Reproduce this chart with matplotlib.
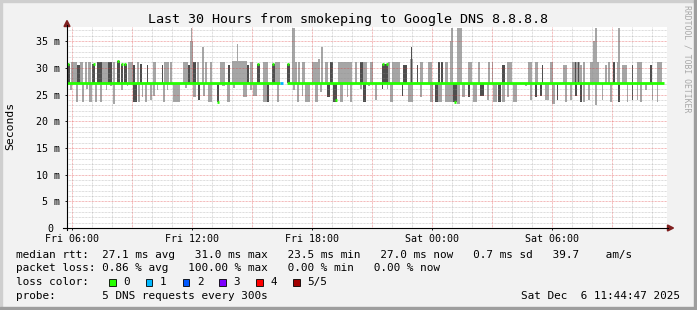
import numpy as np
import matplotlib.pyplot as plt
from matplotlib.patches import Rectangle, Polygon
from matplotlib.lines import Line2D

# time axis in hours since Fri 00:00, values in ms
t_start, t_end = 5.746, 35.746
median = 27.2

# smoke above the median line (start hour, width hours, top ms, dark shade)
up_t = [5.77, 5.95, 6.27, 6.42, 6.67, 6.82, 7.02, 7.27, 7.52, 7.82,
        8.07, 8.27, 8.47, 8.62, 8.82, 9.07, 9.27, 9.42, 9.77, 10.07,
        10.52, 10.62, 10.92, 11.57, 11.82, 11.92, 11.97, 12.07, 12.27, 12.52,
        12.67, 12.92, 13.42, 13.82, 14.02, 14.27, 14.77, 14.92, 15.27, 15.57,
        16.02, 16.17, 16.77, 17.02, 17.17, 17.32, 17.52, 18.02, 18.32, 18.47,
        18.67, 18.92, 19.32, 20.17, 20.42, 20.57, 20.92, 21.52, 21.82, 22.02,
        22.57, 22.92, 22.97, 23.27, 23.42, 23.82, 24.32, 24.47, 24.67, 24.92,
        24.97, 25.27, 25.82, 26.32, 26.82, 27.02, 27.52, 27.77, 28.82, 29.17,
        29.52, 29.92, 30.57, 31.02, 31.17, 31.32, 31.42, 31.57, 31.92, 32.07,
        32.17, 32.67, 32.82, 33.07, 33.27, 33.32, 33.52, 34.02, 34.27, 34.92,
        35.27]
up_w = [.15, .32, .15, .15, .10, .15, .15, .25, .30, .20,
        .10, .15, .10, .15, .25, .10, .10, .10, .05, .15,
        .05, .25, .10, .25, .10, .15, .05, .15, .10, .10,
        .10, .10, .25, .10, .75, .05, .10, .15, .15, .25,
        .15, .25, .15, .15, .10, .10, .15, .30, .10, .10,
        .15, .15, .70, .10, .15, .20, .15, .30, .10, .40,
        .20, .15, .05, .05, .15, .20, .10, .10, .15, .15,
        .10, .25, .20, .10, .10, .05, .15, .25, .20, .15,
        .05, .15, .20, .40, .05, .05, .10, .10, .45, .20,
        .10, .10, .10, .10, .15, .10, .25, .05, .25, .10,
        .25]
up_hi = [30.7, 31.1, 30.5, 31.1, 31.1, 31.1, 30.7, 31.1, 31.1, 31.1,
         31.1, 31.3, 30.7, 30.7, 31.1, 30.5, 31.1, 30.7, 30.5, 31.1,
         30.5, 31.1, 31.1, 31.1, 30.5, 35.1, 37.4, 31.1, 31.1, 33.9,
         31.1, 31.1, 31.1, 30.5, 31.3, 34.4, 30.5, 31.1, 30.7, 31.1,
         30.7, 31.1, 30.7, 37.4, 31.1, 31.1, 31.1, 31.1, 31.6, 33.9,
         31.1, 31.1, 31.1, 31.1, 31.1, 31.1, 31.1, 30.7, 31.1, 31.1,
         30.5, 31.6, 33.9, 30.5, 31.1, 31.1, 31.1, 31.1, 31.1, 35.1,
         37.4, 37.4, 31.1, 31.1, 31.1, 31.1, 30.5, 31.1, 31.1, 31.1,
         30.5, 31.1, 30.5, 31.1, 31.1, 31.1, 30.5, 31.1, 31.1, 35.1,
         37.4, 30.5, 31.1, 31.1, 31.1, 37.4, 30.5, 30.5, 31.1, 30.5,
         31.1]
up_dark = [1, 0, 1, 0, 0, 0, 1, 1, 0, 1,
           0, 1, 1, 1, 0, 1, 0, 1, 1, 0,
           1, 0, 0, 0, 1, 0, 0, 1, 0, 0,
           0, 0, 0, 1, 0, 0, 1, 0, 1, 0,
           1, 0, 1, 0, 0, 0, 0, 0, 0, 0,
           0, 1, 0, 0, 1, 0, 0, 1, 0, 0,
           1, 0, 1, 1, 0, 0, 1, 1, 0, 0,
           0, 0, 0, 0, 0, 0, 1, 0, 0, 0,
           1, 0, 0, 0, 1, 1, 0, 0, 0, 0,
           0, 0, 0, 1, 0, 0, 0, 1, 0, 1,
           0]

# smoke below the median line (start hour, width hours, bottom ms, dark shade)
lo_t = [5.92, 6.22, 6.49, 6.72, 6.87, 7.17, 7.42, 7.72, 7.92, 8.07,
        8.47, 8.77, 9.07, 9.32, 9.52, 9.67, 9.92, 10.07, 10.27, 10.57,
        10.77, 11.07, 11.67, 12.07, 12.32, 12.57, 12.82, 13.27, 13.52, 13.77,
        14.07, 14.57, 14.92, 15.07, 15.57, 15.77, 16.27, 17.07, 17.27, 17.52,
        17.67, 18.17, 18.42, 18.77, 19.07, 19.42, 19.77, 19.92, 20.42, 20.57,
        20.82, 21.17, 21.52, 21.77, 21.92, 22.52, 22.82, 23.42, 23.92, 24.17,
        24.32, 24.67, 25.07, 25.27, 25.52, 25.82, 26.07, 26.42, 26.77, 27.07,
        27.32, 27.52, 27.77, 28.07, 28.67, 28.92, 29.17, 29.42, 29.67, 30.02,
        30.27, 30.67, 30.92, 31.17, 31.42, 31.57, 31.82, 32.17, 32.52, 32.92,
        33.32, 33.77, 34.02, 34.27, 34.42, 34.67, 35.02, 35.27]
lo_w = [.10, .08, .10, .08, .15, .10, .10, .05, .10, .10,
        .10, .05, .20, .10, .05, .10, .10, .10, .05, .10,
        .05, .35, .10, .15, .10, .10, .20, .10, .15, .15,
        .10, .20, .10, .20, .20, .10, .10, .10, .10, .05,
        .25, .15, .10, .15, .20, .15, .05, .10, .10, .15,
        .10, .10, .05, .05, .15, .05, .25, .10, .15, .15,
        .20, .40, .20, .15, .15, .10, .20, .20, .10, .20,
        .15, .15, .10, .20, .10, .10, .10, .10, .20, .15,
        .05, .10, .10, .10, .10, .10, .10, .10, .05, .10,
        .10, .05, .05, .05, .10, .10, .05, .05]
lo_lo = [25.8, 23.6, 23.6, 26.0, 23.6, 23.6, 23.6, 25.8, 26.6, 23.3,
         25.8, 26.6, 23.6, 23.6, 24.6, 23.6, 24.0, 24.8, 25.8, 23.6,
         25.8, 23.6, 26.2, 24.6, 24.0, 24.8, 23.6, 23.6, 26.6, 23.6,
         26.2, 24.6, 25.8, 24.8, 23.6, 23.6, 23.6, 25.8, 23.6, 24.8,
         23.6, 23.6, 25.5, 24.6, 23.6, 23.6, 24.6, 23.6, 26.0, 23.6,
         26.6, 24.0, 26.0, 26.0, 23.6, 24.8, 23.6, 24.6, 23.6, 23.6,
         23.6, 23.6, 23.6, 23.3, 24.6, 24.6, 23.6, 24.8, 24.0, 23.6,
         23.6, 23.6, 24.6, 23.6, 26.6, 24.0, 24.6, 24.8, 24.0, 23.3,
         24.0, 23.6, 24.0, 24.8, 23.6, 23.6, 24.0, 23.1, 24.0, 23.6,
         23.6, 23.6, 24.0, 24.0, 23.6, 25.8, 24.0, 23.6]
lo_dark = [0, 0, 0, 0, 0, 0, 0, 0, 0, 0,
           0, 0, 1, 0, 0, 0, 0, 0, 0, 0,
           0, 0, 0, 0, 1, 0, 0, 1, 0, 0,
           0, 0, 0, 0, 0, 1, 0, 0, 0, 0,
           0, 0, 0, 1, 1, 0, 0, 0, 0, 1,
           0, 0, 1, 0, 0, 1, 0, 0, 0, 1,
           0, 0, 1, 0, 0, 1, 0, 1, 0, 0,
           1, 0, 0, 0, 0, 0, 1, 1, 0, 0,
           1, 0, 0, 1, 1, 0, 0, 0, 0, 0,
           1, 0, 1, 0, 0, 0, 0, 0]

# median line: spans with loss 0, one span with loss 1, gap of full loss
med0_t0 = [5.77, 16.77]
med0_t1 = [16.42, 35.62]
med1_t0 = [16.42]
med1_t1 = [16.57]
# single samples where the median jumped away from the base line
exc_t = [5.77, 7.07, 8.27, 8.47, 8.62, 13.27, 15.27, 16.02, 16.77, 19.17, 21.52, 21.72, 25.12]
exc_v = [30.7, 30.7, 31.2, 30.7, 30.7, 23.6, 30.7, 30.7, 30.7, 24.0, 30.7, 30.7, 23.6]

loss_labels = ['0', '1', '2', '3', '4', '5/5']
loss_colors = ['#26ff00', '#00b8ff', '#0059ff', '#7e00ff', '#ff0000', '#a10000']

legend_rows = [
    'median rtt:  27.1 ms avg   31.0 ms max   23.5 ms min   27.0 ms now   0.7 ms sd   39.7    am/s',
    'packet loss: 0.86 % avg   100.00 % max   0.00 % min   0.00 % now',
    'loss color:',
    'probe:       5 DNS requests every 300s',
]
stamp = 'Sat Dec  6 11:44:47 2025'

LIGHT = '#a6a6a6'
DARK = '#4e4e4e'
MONO = 'DejaVu Sans Mono'

W, H = 697, 310
fig = plt.figure(figsize=(W / 100, H / 100), dpi=100, facecolor='#f2f2f2')


def fx(x):
    return x / W


def fy(y):
    return 1 - y / H


# 3d frame around the canvas
fig.patches.append(Rectangle((0, fy(2)), 1, 2 / H, transform=fig.transFigure, color='#cfcfcf', zorder=0))
fig.patches.append(Rectangle((0, 0), 2 / W, 1, transform=fig.transFigure, color='#cfcfcf', zorder=0))
fig.patches.append(Rectangle((0, 0), 1, 3 / H, transform=fig.transFigure, color='#9e9e9e', zorder=0))
fig.patches.append(Rectangle((fx(694), 0), 3 / W, 1, transform=fig.transFigure, color='#9e9e9e', zorder=0))

ax = fig.add_axes([fx(67), fy(228), 600 / W, (228 - 26.7) / H])
ax.set_facecolor('white')
ax.set_xlim(t_start, t_end)
ax.set_ylim(0, 37.7)
for s in ax.spines.values():
    s.set_visible(False)

# smoke, light first then dark
up_t = np.array(up_t); up_w = np.array(up_w); up_hi = np.array(up_hi); up_dark = np.array(up_dark, bool)
lo_t = np.array(lo_t); lo_w = np.array(lo_w); lo_lo = np.array(lo_lo); lo_dark = np.array(lo_dark, bool)
for sel, col in [(~up_dark, LIGHT), (up_dark, DARK)]:
    ax.bar(up_t[sel], up_hi[sel] - median, width=up_w[sel], bottom=median,
           align='edge', color=col, linewidth=0, zorder=2)
for sel, col in [(~lo_dark, LIGHT), (lo_dark, DARK)]:
    ax.bar(lo_t[sel], median - lo_lo[sel], width=lo_w[sel], bottom=lo_lo[sel],
           align='edge', color=col, linewidth=0, zorder=2)

# grid drawn over the smoke like rrdtool does
for h in range(6, 36):
    if h % 3 == 0:
        ax.axvline(h, color='#de3030', alpha=0.45, lw=0.72, dashes=(0.72, 0.72), zorder=3)
    else:
        ax.axvline(h, color='#8f8f8f', alpha=0.4, lw=0.72, dashes=(0.72, 0.72), zorder=3)
for v in range(1, 38):
    if v % 5 == 0:
        ax.axhline(v, color='#de3030', alpha=0.45, lw=0.72, dashes=(0.72, 0.72), zorder=3)
    else:
        ax.axhline(v, color='#8f8f8f', alpha=0.4, lw=0.72, dashes=(0.72, 0.72), zorder=3)

# median
ax.hlines([median] * len(med0_t0), med0_t0, med0_t1, color=loss_colors[0], lw=2.0, zorder=4)
ax.hlines([median] * len(med1_t0), med1_t0, med1_t1, color=loss_colors[1], lw=2.0, zorder=4)
ax.hlines(exc_v, exc_t, np.array(exc_t) + 0.1, color=loss_colors[0], lw=2.0, zorder=4)

# ticks
ax.set_xticks([6, 12, 18, 24, 30], ['Fri 06:00', 'Fri 12:00', 'Fri 18:00', 'Sat 00:00', 'Sat 06:00'])
ax.set_yticks(range(0, 36, 5), ['0 '] + ['%d m' % v for v in range(5, 36, 5)])
ax.tick_params(axis='both', length=1.5, width=0.7, color='#1f1f1f', labelsize=7.2)
ax.tick_params(axis='x', pad=2.6)
ax.tick_params(axis='y', pad=3.6)
for lab in ax.get_xticklabels() + ax.get_yticklabels():
    lab.set_family(MONO)

# axes with arrows
fig.lines.append(Line2D([fx(62.7), fx(668)], [fy(228), fy(228)], transform=fig.transFigure, color='black', lw=0.8))
fig.lines.append(Line2D([fx(67), fx(67)], [fy(230), fy(25)], transform=fig.transFigure, color='black', lw=0.8))
fig.patches.append(Polygon([(fx(673.5), fy(228)), (fx(667.5), fy(225)), (fx(667.5), fy(231))],
                           closed=True, transform=fig.transFigure, color='#7f1f1f'))
fig.patches.append(Polygon([(fx(67), fy(20.5)), (fx(64), fy(26.5)), (fx(70), fy(26.5))],
                           closed=True, transform=fig.transFigure, color='#7f1f1f'))

fig.text(fx(348.5), fy(19), 'Last 30 Hours from smokeping to Google DNS 8.8.8.8',
         family=MONO, fontsize=9.6, ha='center', va='center')
fig.text(fx(10), fy(126), 'Seconds', family=MONO, fontsize=8.2, rotation=90, ha='center', va='center')
fig.text(fx(687.5), fy(59), 'RRDTOOL / TOBI OETIKER', family=MONO, fontsize=5.9,
         color='#a8a8a8', rotation=270, ha='center', va='center')

# legend block, monospace rows
LS = 7.93
for y, txt in zip([254.7, 268.3, 282.3, 295.7], legend_rows):
    fig.text(fx(15.7), fy(y), txt, family=MONO, fontsize=LS, ha='left', va='center')

box_x = [109, 145.7, 182.7, 219.3, 256, 293.3]
lab_x = [123.3, 160, 197.3, 233.3, 270.7, 307.3]
for bx, lx, c, lab in zip(box_x, lab_x, loss_colors, loss_labels):
    fig.patches.append(Rectangle((fx(bx), fy(285.5)), 6.5 / W, 6.5 / H, transform=fig.transFigure,
                                 facecolor=c, edgecolor='black', lw=0.6))
    fig.text(fx(lx), fy(282.3), lab, family=MONO, fontsize=LS, ha='left', va='center')

fig.text(fx(680), fy(295.7), stamp, family=MONO, fontsize=LS, ha='right', va='center')

fig.savefig('out.png', dpi=100, facecolor=fig.get_facecolor())
